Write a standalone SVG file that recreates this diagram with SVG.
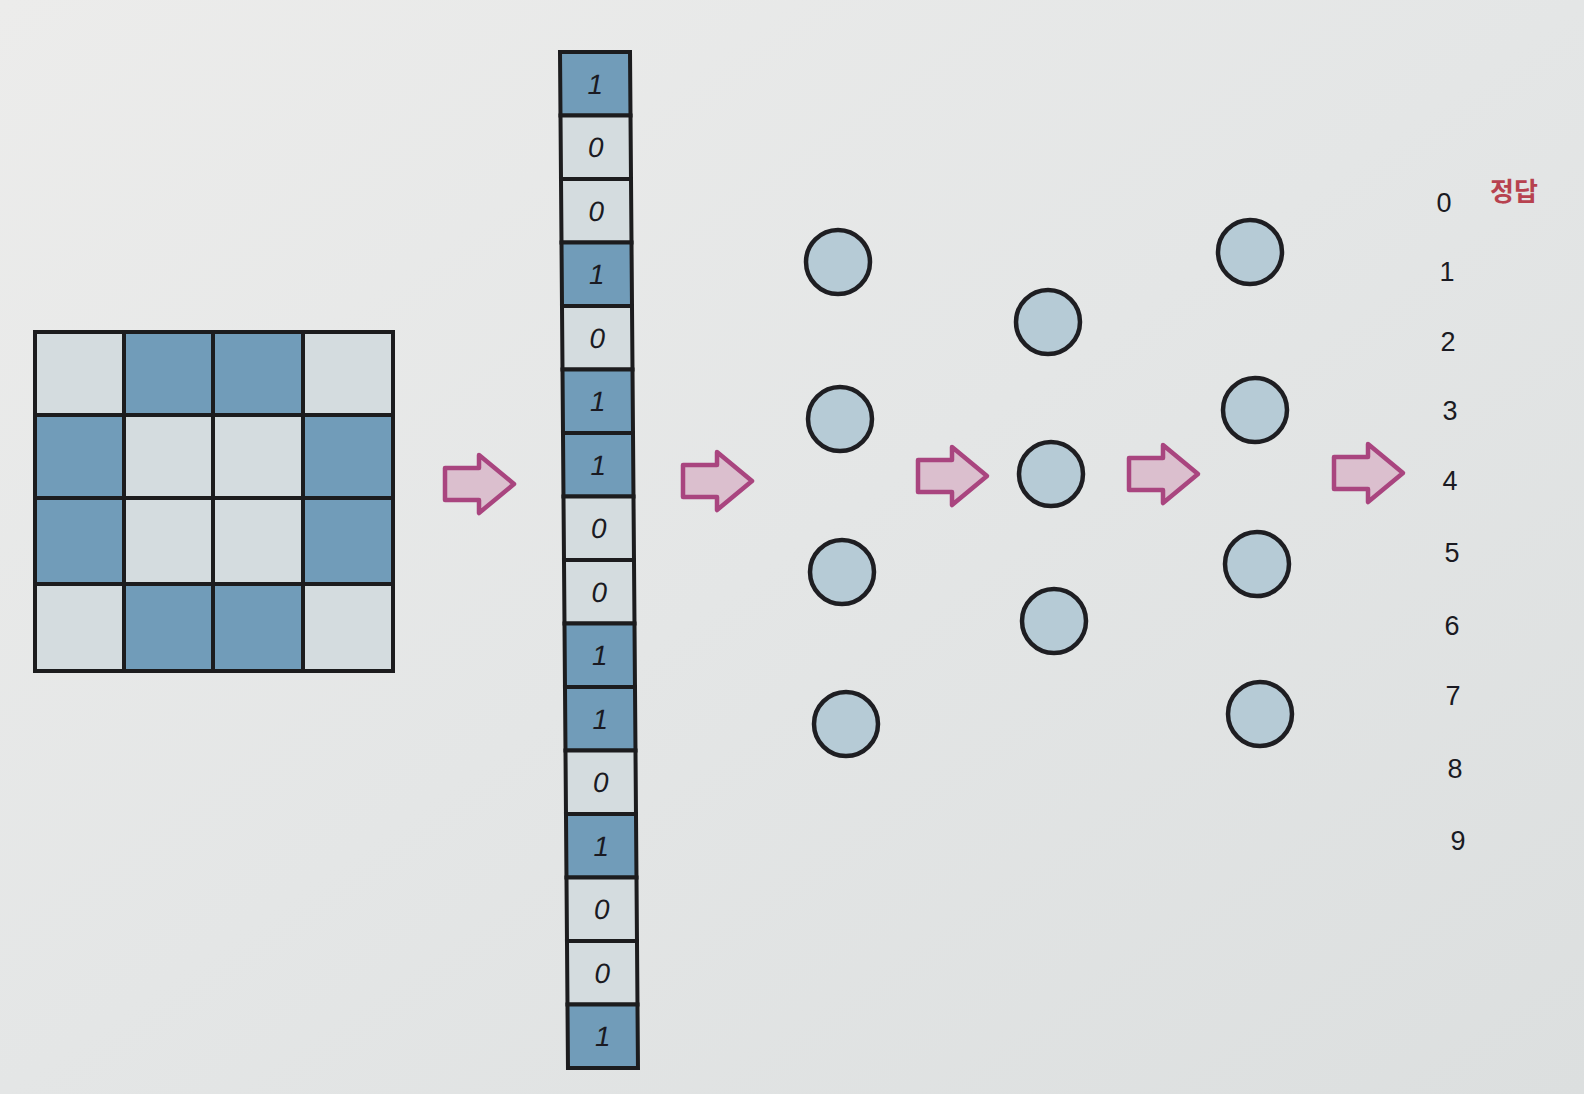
<svg xmlns="http://www.w3.org/2000/svg" width="1584" height="1094" viewBox="0 0 1584 1094">
<defs>
<linearGradient id="paper" x1="0" y1="0" x2="1" y2="1">
<stop offset="0" stop-color="#ececeb"/>
<stop offset="0.5" stop-color="#e4e6e6"/>
<stop offset="1" stop-color="#dcdfdf"/>
</linearGradient>
<path id="arrow" d="M0,-16 L34,-16 L34,-29 L69,0 L34,29 L34,16 L0,16 Z"/>
</defs>
<style>
.blue{fill:#719cb9;stroke:#1c1c1e;stroke-width:4}
.light{fill:#d4dcdf;stroke:#1c1c1e;stroke-width:4}
.node{fill:#b6cbd6;stroke:#1e1e22;stroke-width:4.5}
.arr{fill:#dbbfce;stroke:#a9457f;stroke-width:4.5;stroke-linejoin:round}
.bit{font-family:"Liberation Sans",Arial,sans-serif;font-style:italic;font-size:28px;fill:#1a1a22;text-anchor:middle}
.lab{font-family:"Liberation Sans",Arial,sans-serif;font-size:27px;fill:#1a1a22;text-anchor:middle}
.ans{font-family:"Noto Sans CJK KR","Noto Sans",sans-serif;font-weight:bold;font-size:26px;fill:#b7424f}
</style>
<rect x="0" y="0" width="1584" height="1094" fill="url(#paper)"/>

<g id="grid">
<rect class="light" x="35" y="332" width="89" height="83"/>
<rect class="blue" x="124" y="332" width="89" height="83"/>
<rect class="blue" x="213" y="332" width="90" height="83"/>
<rect class="light" x="303" y="332" width="90" height="83"/>
<rect class="blue" x="35" y="415" width="89" height="83"/>
<rect class="light" x="124" y="415" width="89" height="83"/>
<rect class="light" x="213" y="415" width="90" height="83"/>
<rect class="blue" x="303" y="415" width="90" height="83"/>
<rect class="blue" x="35" y="498" width="89" height="86"/>
<rect class="light" x="124" y="498" width="89" height="86"/>
<rect class="light" x="213" y="498" width="90" height="86"/>
<rect class="blue" x="303" y="498" width="90" height="86"/>
<rect class="light" x="35" y="584" width="89" height="87"/>
<rect class="blue" x="124" y="584" width="89" height="87"/>
<rect class="blue" x="213" y="584" width="90" height="87"/>
<rect class="light" x="303" y="584" width="90" height="87"/>
</g>

<g id="vector" transform="translate(560,52) skewX(0.45)">
<rect class="blue" x="0" y="0" width="70" height="63.5"/><text class="bit" x="35" y="42">1</text>
<rect class="light" x="0" y="63.5" width="70" height="63.5"/><text class="bit" x="35" y="105.5">0</text>
<rect class="light" x="0" y="127" width="70" height="63.5"/><text class="bit" x="35" y="169">0</text>
<rect class="blue" x="0" y="190.5" width="70" height="63.5"/><text class="bit" x="35" y="232.5">1</text>
<rect class="light" x="0" y="254" width="70" height="63.5"/><text class="bit" x="35" y="296">0</text>
<rect class="blue" x="0" y="317.5" width="70" height="63.5"/><text class="bit" x="35" y="359.5">1</text>
<rect class="blue" x="0" y="381" width="70" height="63.5"/><text class="bit" x="35" y="423">1</text>
<rect class="light" x="0" y="444.5" width="70" height="63.5"/><text class="bit" x="35" y="486.5">0</text>
<rect class="light" x="0" y="508" width="70" height="63.5"/><text class="bit" x="35" y="550">0</text>
<rect class="blue" x="0" y="571.5" width="70" height="63.5"/><text class="bit" x="35" y="613.5">1</text>
<rect class="blue" x="0" y="635" width="70" height="63.5"/><text class="bit" x="35" y="677">1</text>
<rect class="light" x="0" y="698.5" width="70" height="63.5"/><text class="bit" x="35" y="740.5">0</text>
<rect class="blue" x="0" y="762" width="70" height="63.5"/><text class="bit" x="35" y="804">1</text>
<rect class="light" x="0" y="825.5" width="70" height="63.5"/><text class="bit" x="35" y="867.5">0</text>
<rect class="light" x="0" y="889" width="70" height="63.5"/><text class="bit" x="35" y="931">0</text>
<rect class="blue" x="0" y="952.5" width="70" height="63.5"/><text class="bit" x="35" y="994.5">1</text>
</g>

<g id="layer1">
<circle class="node" cx="838" cy="262" r="32"/>
<circle class="node" cx="840" cy="419" r="32"/>
<circle class="node" cx="842" cy="572" r="32"/>
<circle class="node" cx="846" cy="724" r="32"/>
</g>
<g id="layer2">
<circle class="node" cx="1048" cy="322" r="32"/>
<circle class="node" cx="1051" cy="474" r="32"/>
<circle class="node" cx="1054" cy="621" r="32"/>
</g>
<g id="layer3">
<circle class="node" cx="1250" cy="252" r="32"/>
<circle class="node" cx="1255" cy="410" r="32"/>
<circle class="node" cx="1257" cy="564" r="32"/>
<circle class="node" cx="1260" cy="714" r="32"/>
</g>

<g id="outputs">
<text class="ans" x="1490" y="201">정답</text>
<text class="lab" x="1444" y="212">0</text>
<text class="lab" x="1447" y="281">1</text>
<text class="lab" x="1448" y="351">2</text>
<text class="lab" x="1450" y="420">3</text>
<text class="lab" x="1450" y="490">4</text>
<text class="lab" x="1452" y="562">5</text>
<text class="lab" x="1452" y="635">6</text>
<text class="lab" x="1453" y="705">7</text>
<text class="lab" x="1455" y="778">8</text>
<text class="lab" x="1458" y="850">9</text>
</g>

<g id="connectors">
<use href="#arrow" class="arr" x="445" y="484"/>
<use href="#arrow" class="arr" x="683" y="481"/>
<use href="#arrow" class="arr" x="918" y="476"/>
<use href="#arrow" class="arr" x="1129" y="474"/>
<use href="#arrow" class="arr" x="1334" y="473"/>
</g>
</svg>
